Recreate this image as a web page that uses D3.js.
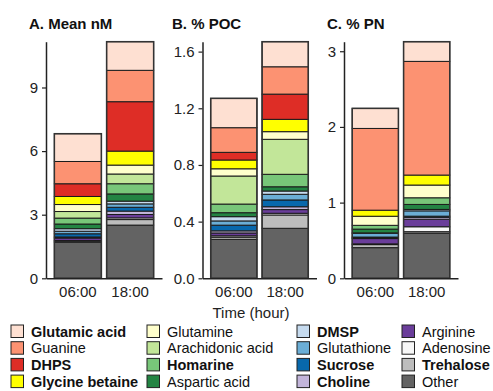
<!DOCTYPE html>
<html>
<head>
<meta charset="utf-8">
<script src="https://cdn.jsdelivr.net/npm/d3@7"></script>
<style>
  body { margin: 0; background: #fff; }
  svg { font-family: "Liberation Sans", Arial, sans-serif; }
</style>
</head>
<body>
<svg id="chart" width="493" height="391"></svg>
<script>
// legend order = top of stack to bottom
const compounds = ['Glutamic acid', 'Guanine', 'DHPS', 'Glycine betaine',
  'Glutamine', 'Arachidonic acid', 'Homarine', 'Aspartic acid',
  'DMSP', 'Glutathione', 'Sucrose', 'Choline',
  'Arginine', 'Adenosine', 'Trehalose', 'Other'];
const boldNames = ['Glutamic acid', 'DHPS', 'Glycine betaine', 'Homarine', 'DMSP', 'Sucrose', 'Choline', 'Trehalose'];
const colors = ['#fee0d2', '#fc9272', '#de2d26', '#ffff00',
  '#ffffcc', '#c2e699', '#78c679', '#238443',
  '#c6dbef', '#6baed6', '#0868ac', '#c2b5da',
  '#6a3d9a', '#f7f7f7', '#bdbdbd', '#636363'];
const times = ['06:00', '18:00'];

const meanNM06 = [1.31, 1.05, 0.60, 0.38, 0.33, 0.31, 0.28, 0.22, 0.12, 0.12, 0.15, 0.05, 0.12, 0.03, 0.05, 1.70];
const meanNM18 = [1.35, 1.48, 2.33, 0.66, 0.42, 0.46, 0.48, 0.34, 0.13, 0.16, 0.18, 0.16, 0.16, 0.08, 0.26, 2.51];
const poc06 = [0.207, 0.174, 0.054, 0.062, 0.051, 0.198, 0.061, 0.028, 0.03, 0.03, 0.04, 0.015, 0.02, 0.01, 0.015, 0.275];
const poc18 = [0.177, 0.193, 0.178, 0.087, 0.054, 0.247, 0.088, 0.03, 0.023, 0.04, 0.048, 0.02, 0.026, 0.012, 0.094, 0.353];
const pn06 = [0.265, 1.08, 0, 0.08, 0.12, 0, 0.05, 0.05, 0.005, 0.05, 0.01, 0.01, 0.07, 0.01, 0.04, 0.405];
const pn18 = [0.26, 1.502, 0, 0.132, 0.168, 0, 0.088, 0.066, 0.019, 0.07, 0.015, 0.025, 0.10, 0.065, 0.02, 0.596];

const panels = [
  { title: 'A. Mean nM', values: [meanNM06, meanNM18], ticks: [0, 3, 6, 9], fmt: d3.format('d'), left: 46, width: 116, titleX: 29 },
  { title: 'B. % POC', values: [poc06, poc18], ticks: [0, 0.4, 0.8, 1.2, 1.6], fmt: d3.format('.1f'), left: 202.5, width: 114, titleX: 172 },
  { title: 'C. % PN', values: [pn06, pn18], ticks: [0, 1, 2, 3], fmt: d3.format('d'), left: 344, width: 114, titleX: 327 }
];

const svg = d3.select('#chart');
const yBottom = 278.3, yTop = 41.7;
const stackKeys = compounds.slice().reverse();
const colorOf = d3.scaleOrdinal().domain(compounds).range(colors);

panels.forEach(p => {
  const g = svg.append('g').attr('transform', `translate(${p.left},0)`);
  const rows = times.map((t, i) => {
    const r = { time: t };
    compounds.forEach((c, j) => { r[c] = p.values[i][j]; });
    return r;
  });
  const stacked = d3.stack().keys(stackKeys)(rows);
  const totals = p.values.map(v => d3.sum(v));

  const x = d3.scaleBand().domain(times).range([0, p.width]).paddingInner(0.1).paddingOuter(0.16);
  const y = d3.scaleLinear().domain([0, d3.max(totals)]).range([yBottom, yTop]);

  g.append('g')
    .selectAll('g')
    .data(stacked)
    .join('g')
    .attr('fill', d => colorOf(d.key))
    .selectAll('rect')
    .data(d => d)
    .join('rect')
    .attr('x', d => x(d.data.time))
    .attr('width', x.bandwidth())
    .attr('y', d => y(d[1]))
    .attr('height', d => y(d[0]) - y(d[1]))
    .attr('stroke', '#1a1a1a')
    .attr('stroke-width', 1);

  // outer bar outline
  g.append('g')
    .selectAll('rect')
    .data(times)
    .join('rect')
    .attr('x', d => x(d))
    .attr('width', x.bandwidth())
    .attr('y', (d, i) => y(totals[i]))
    .attr('height', (d, i) => yBottom - y(totals[i]))
    .attr('fill', 'none')
    .attr('stroke', '#333')
    .attr('stroke-width', 1.5);

  const yAxis = g.append('g')
    .call(d3.axisLeft(y).tickValues(p.ticks).tickFormat(p.fmt).tickSize(4).tickPadding(4).tickSizeOuter(0));
  yAxis.select('.domain').attr('stroke', '#222').attr('stroke-width', 1.5);
  yAxis.selectAll('.tick line').attr('stroke', '#222').attr('stroke-width', 1.2);
  yAxis.selectAll('.tick text').attr('font-size', 15).attr('fill', '#222');

  const xAxis = g.append('g')
    .attr('transform', `translate(0,${yBottom})`)
    .call(d3.axisBottom(x).tickSize(0).tickPadding(8).tickSizeOuter(0));
  xAxis.select('.domain').attr('stroke', '#222').attr('stroke-width', 1.5);
  xAxis.selectAll('.tick text').attr('font-size', 15).attr('fill', '#222');

  svg.append('text')
    .attr('x', p.titleX)
    .attr('y', 29)
    .attr('font-size', 15)
    .attr('font-weight', 'bold')
    .attr('fill', '#111')
    .text(p.title);
});

svg.append('text')
  .attr('x', 251)
  .attr('y', 318)
  .attr('text-anchor', 'middle')
  .attr('font-size', 15)
  .attr('fill', '#222')
  .text('Time (hour)');

// legend: 4 columns x 4 rows
const colX = [11, 147, 297, 402];
const legend = svg.append('g');
const items = legend.selectAll('g')
  .data(compounds)
  .join('g')
  .attr('transform', (d, i) => `translate(${colX[Math.floor(i / 4)]},${325 + (i % 4) * 16.7})`);
items.append('rect')
  .attr('width', 12.5)
  .attr('height', 12.5)
  .attr('fill', d => colorOf(d))
  .attr('stroke', '#222')
  .attr('stroke-width', 1);
items.append('text')
  .attr('x', 20)
  .attr('y', 11.5)
  .attr('font-size', 14.5)
  .attr('font-weight', d => boldNames.includes(d) ? 'bold' : 'normal')
  .attr('fill', '#111')
  .text(d => d);
</script>
</body>
</html>
